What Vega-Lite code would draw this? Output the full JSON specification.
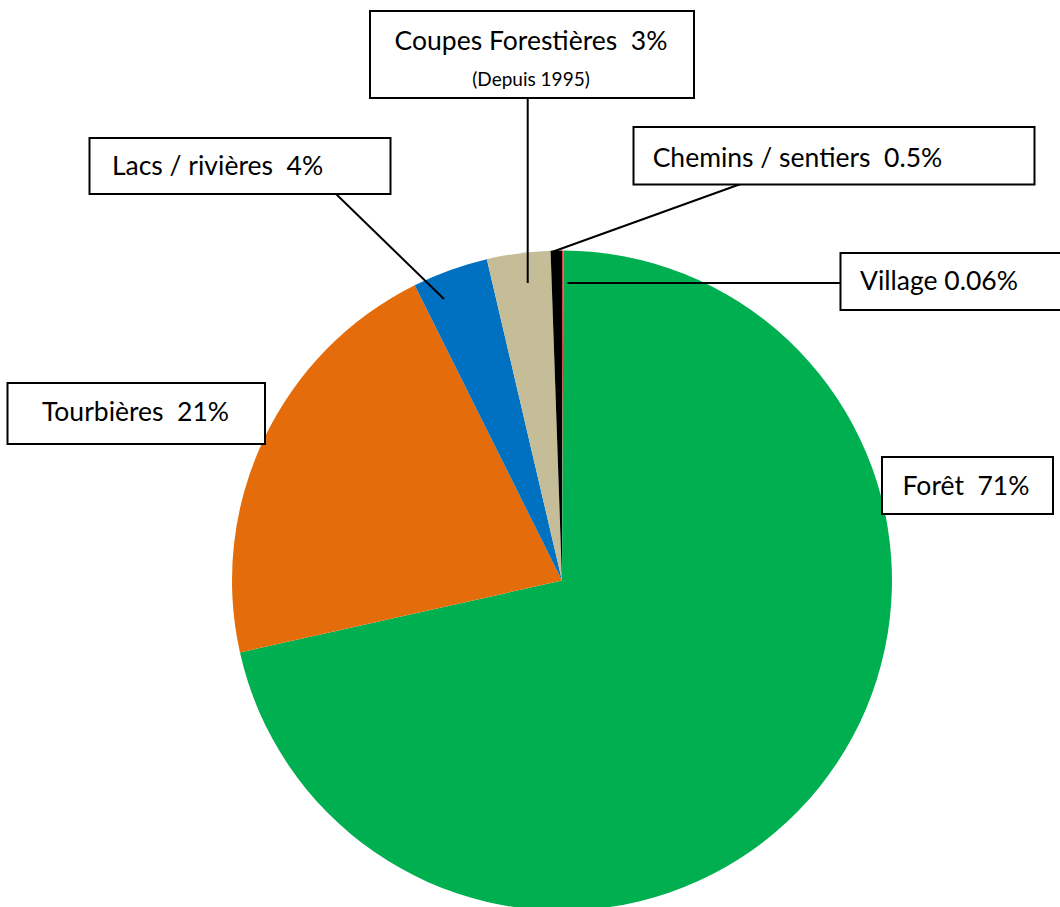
{
  "$schema": "https://vega.github.io/schema/vega-lite/v6.json",
  "width": 1060,
  "height": 907,
  "padding": 0,
  "autosize": {"type": "none"},
  "background": "white",
  "config": {"view": {"stroke": null}, "text": {"font": "Lato"}},
  "datasets": {
    "slices": [
      {"cat": "Village", "value": 0.07, "ord": 1},
      {"cat": "Forêt", "value": 71.3, "ord": 2},
      {"cat": "Tourbières", "value": 21.1, "ord": 3},
      {"cat": "Lacs / rivières", "value": 3.7, "ord": 4},
      {"cat": "Coupes forestières", "value": 3.1, "ord": 5},
      {"cat": "Chemins / sentiers", "value": 0.55, "ord": 6}
    ],
    "leaders": [
      {"cat": "Coupes forestières", "u1": -0.1039, "v1": 1.4621, "u2": -0.1039, "v2": 0.9015},
      {"cat": "Lacs / rivières", "u1": -0.6848, "v1": 1.1712, "u2": -0.3576, "v2": 0.853},
      {"cat": "Chemins / sentiers", "u1": 0.5455, "v1": 1.203, "u2": -0.0303, "v2": 0.9955},
      {"cat": "Village", "u1": 0.8439, "v1": 0.9015, "u2": 0.0167, "v2": 0.9015}
    ],
    "boxes": [
      {"cat": "Coupes forestières", "u1": -0.5818, "u2": 0.4, "v1": 1.7258, "v2": 1.4621},
      {"cat": "Lacs / rivières", "u1": -1.4318, "u2": -0.5197, "v1": 1.3409, "v2": 1.1712},
      {"cat": "Chemins / sentiers", "u1": 0.2167, "u2": 1.4318, "v1": 1.3742, "v2": 1.2},
      {"cat": "Village", "u1": 0.8439, "u2": 1.55, "v1": 0.9924, "v2": 0.8197},
      {"cat": "Tourbières", "u1": -1.6803, "u2": -0.9, "v1": 0.5985, "v2": 0.4136},
      {"cat": "Forêt", "u1": 0.9697, "u2": 1.4879, "v1": 0.3742, "v2": 0.2015}
    ],
    "labels": [
      {"kind": "main", "text": "Coupes Forestières\u00a0 3%", "u": -0.0939, "v": 1.6076},
      {"kind": "note", "text": "(Depuis 1995)", "u": -0.0939, "v": 1.4985},
      {"kind": "main", "text": "Lacs / rivières\u00a0 4%", "u": -1.0439, "v": 1.2288},
      {"kind": "main", "text": "Chemins / sentiers\u00a0 0.5%", "u": 0.7136, "v": 1.253},
      {"kind": "main", "text": "Village 0.06%", "u": 1.1424, "v": 0.8803},
      {"kind": "main", "text": "Tourbières\u00a0 21%", "u": -1.2924, "v": 0.4833},
      {"kind": "main", "text": "Forêt\u00a0 71%", "u": 1.2242, "v": 0.2591}
    ]
  },
  "layer": [
    {
      "data": {"name": "slices"},
      "mark": {"type": "arc", "outerRadius": 330, "stroke": null},
      "encoding": {
        "theta": {"field": "value", "type": "quantitative", "stack": true},
        "order": {"field": "ord", "type": "quantitative"},
        "color": {
          "field": "cat",
          "type": "nominal",
          "legend": null,
          "scale": {
            "domain": ["Village", "Forêt", "Tourbières", "Lacs / rivières", "Coupes forestières", "Chemins / sentiers"],
            "range": ["#E0403A", "#00B050", "#E46C0A", "#0070C0", "#C4BD97", "#000000"]
          }
        },
        "x": {"datum": 0, "type": "quantitative", "axis": null, "scale": {"domain": [-1.70303, 1.50909], "nice": false, "zero": false}},
        "y": {"datum": 0, "type": "quantitative", "axis": null, "scale": {"domain": [-0.98939, 1.75909], "nice": false, "zero": false}}
      }
    },
    {
      "data": {"name": "leaders"},
      "mark": {"type": "rule", "color": "black", "strokeWidth": 2},
      "encoding": {
        "x": {"field": "u1", "type": "quantitative", "axis": null, "scale": {"domain": [-1.70303, 1.50909], "nice": false, "zero": false}},
        "y": {"field": "v1", "type": "quantitative", "axis": null, "scale": {"domain": [-0.98939, 1.75909], "nice": false, "zero": false}},
        "x2": {"field": "u2"},
        "y2": {"field": "v2"}
      }
    },
    {
      "data": {"name": "boxes"},
      "mark": {"type": "rect", "fill": "white", "stroke": "black", "strokeWidth": 2},
      "encoding": {
        "x": {"field": "u1", "type": "quantitative", "axis": null, "scale": {"domain": [-1.70303, 1.50909], "nice": false, "zero": false}},
        "y": {"field": "v1", "type": "quantitative", "axis": null, "scale": {"domain": [-0.98939, 1.75909], "nice": false, "zero": false}},
        "x2": {"field": "u2"},
        "y2": {"field": "v2"}
      }
    },
    {
      "data": {"name": "labels"},
      "transform": [{"filter": "datum.kind === 'main'"}],
      "mark": {"type": "text", "fontSize": 26.5, "align": "center", "baseline": "alphabetic", "color": "black"},
      "encoding": {
        "x": {"field": "u", "type": "quantitative", "axis": null, "scale": {"domain": [-1.70303, 1.50909], "nice": false, "zero": false}},
        "y": {"field": "v", "type": "quantitative", "axis": null, "scale": {"domain": [-0.98939, 1.75909], "nice": false, "zero": false}},
        "text": {"field": "text"}
      }
    },
    {
      "data": {"name": "labels"},
      "transform": [{"filter": "datum.kind === 'note'"}],
      "mark": {"type": "text", "fontSize": 19, "align": "center", "baseline": "alphabetic", "color": "black"},
      "encoding": {
        "x": {"field": "u", "type": "quantitative", "axis": null, "scale": {"domain": [-1.70303, 1.50909], "nice": false, "zero": false}},
        "y": {"field": "v", "type": "quantitative", "axis": null, "scale": {"domain": [-0.98939, 1.75909], "nice": false, "zero": false}},
        "text": {"field": "text"}
      }
    }
  ]
}
